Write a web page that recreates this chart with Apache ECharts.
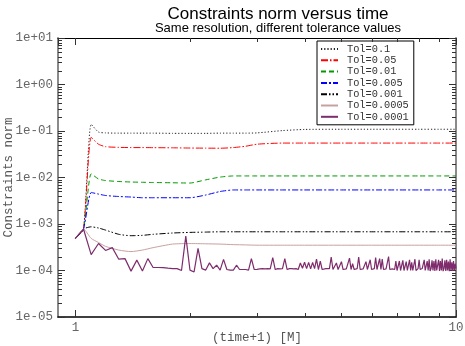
<!DOCTYPE html>
<html><head><meta charset="utf-8">
<script src="https://cdn.jsdelivr.net/npm/echarts@6/dist/echarts.min.js"></script>
<style>html,body{margin:0;padding:0;background:#fff}#c{width:465px;height:346px}</style>
</head><body><div id="c"></div>
<script>
// ---- data ----
const seriesNames = ['Tol=0.1','Tol=0.05','Tol=0.01','Tol=0.005','Tol=0.001','Tol=0.0005','Tol=0.0001'];

// (time+1) samples for the smooth curves
const tSmooth = [1.0,1.05,1.1,1.15,1.2,1.3,1.4,1.5,1.6,1.8,2.0,2.2,2.4,2.6,2.8,3.0,3.5,4,5,6,7,8,9,10];
const tol0_1    = [4.9e-4,7.8e-4,0.139,0.095,0.091,0.090,0.090,0.090,0.090,0.089,0.089,0.089,0.090,0.090,0.090,0.091,0.102,0.108,0.109,0.109,0.109,0.109,0.109,0.109];
const tol0_05   = [4.9e-4,7.8e-4,0.073,0.052,0.046,0.0445,0.044,0.044,0.0438,0.0435,0.043,0.0428,0.0426,0.044,0.047,0.052,0.055,0.055,0.055,0.055,0.055,0.055,0.055,0.055];
const tol0_01   = [4.9e-4,7.8e-4,0.0120,0.0093,0.0086,0.0082,0.0080,0.0079,0.0078,0.0077,0.0076,0.0089,0.0102,0.0108,0.0108,0.0108,0.0108,0.0108,0.0108,0.0108,0.0108,0.0108,0.0108,0.0108];
const tol0_005  = [4.9e-4,7.8e-4,0.00475,0.0044,0.0041,0.0039,0.0038,0.00367,0.00367,0.00367,0.00367,0.0042,0.0050,0.0054,0.0054,0.0054,0.0054,0.0054,0.0054,0.0054,0.0054,0.0054,0.0054,0.0054];
const tol0_001  = [4.9e-4,7.8e-4,8.7e-4,8.2e-4,7.4e-4,6.0e-4,5.6e-4,5.7e-4,6.0e-4,6.4e-4,6.6e-4,6.7e-4,6.8e-4,6.8e-4,6.8e-4,6.8e-4,6.8e-4,6.8e-4,6.8e-4,6.8e-4,6.8e-4,6.8e-4,6.8e-4,6.8e-4];
const tol0_0005 = [4.9e-4,7.8e-4,4.9e-4,4.0e-4,3.3e-4,2.75e-4,2.55e-4,2.75e-4,3.1e-4,3.7e-4,3.8e-4,3.75e-4,3.7e-4,3.6e-4,3.55e-4,3.5e-4,3.5e-4,3.5e-4,3.5e-4,3.5e-4,3.5e-4,3.5e-4,3.5e-4,3.5e-4];

// (time+1) samples for the noisy Tol=0.0001 curve
const tFine = [1.00,1.05,1.10,1.15,1.20,1.25,1.30,1.35,1.40,1.45,1.50,1.55,1.60,1.65,1.70,1.75,1.80,1.85,1.90,1.95,
2.00,2.05,2.10,2.15,2.20,2.25,2.30,2.35,2.40,2.45,2.50,2.55,2.60,2.65,2.70,2.75,2.80,2.85,2.90,2.95,
3.00,3.05,3.10,3.15,3.20,3.25,3.30,3.35,3.40,3.45,3.50,3.55,3.60,3.65,3.70,3.75,3.80,3.85,3.90,3.95,
4.00,4.05,4.10,4.15,4.20,4.25,4.30,4.35,4.40,4.45,4.50,4.55,4.60,4.65,4.70,4.75,4.80,4.85,4.90,4.95,
5.00,5.05,5.10,5.15,5.20,5.25,5.30,5.35,5.40,5.45,5.50,5.55,5.60,5.65,5.70,5.75,5.80,5.85,5.90,5.95,
6.00,6.05,6.10,6.15,6.20,6.25,6.30,6.35,6.40,6.45,6.50,6.55,6.60,6.65,6.70,6.75,6.80,6.85,6.90,6.95,
7.00,7.05,7.10,7.15,7.20,7.25,7.30,7.35,7.40,7.45,7.50,7.55,7.60,7.65,7.70,7.75,7.80,7.85,7.90,7.95,
8.00,8.05,8.10,8.15,8.20,8.25,8.30,8.35,8.40,8.45,8.50,8.55,8.60,8.65,8.70,8.75,8.80,8.85,8.90,8.95,
9.00,9.05,9.10,9.15,9.20,9.25,9.30,9.35,9.40,9.45,9.50,9.55,9.60,9.65,9.70,9.75,9.80,9.85,9.90,9.95,10.00];
const tol0_0001 = [4.9e-4,7.8e-4,2.2e-4,3.8e-4,2.7e-4,3.1e-4,1.75e-4,1.8e-4,0.97e-4,1.67e-4,0.98e-4,1.8e-4,1.16e-4,1.16e-4,1.15e-4,1.12e-4,1.1e-4,1.1e-4,1.0e-4,5.5e-4,
1.02e-4,0.93e-4,3.0e-4,1.1e-4,1.02e-4,1.46e-4,1.1e-4,1.3e-4,1.02e-4,1.73e-4,1.05e-4,1.02e-4,1.02e-4,1.3e-4,1.05e-4,1.05e-4,1.05e-4,1.02e-4,1.8e-4,1.05e-4,
1.06e-4,1.08e-4,1.1e-4,1.08e-4,1.1e-4,1.08e-4,1.9e-4,1.05e-4,1.1e-4,1.08e-4,1.1e-4,1.8e-4,1.05e-4,1.1e-4,1.1e-4,1.08e-4,1.1e-4,1.05e-4,1.45e-4,1.12e-4,
1.5e-4,1.1e-4,1.5e-4,1.08e-4,1.5e-4,1.1e-4,1.75e-4,1.05e-4,1.6e-4,1.05e-4,1.1e-4,1.1e-4,1.08e-4,1.1e-4,1.95e-4,1.05e-4,1.1e-4,1.45e-4,1.05e-4,1.1e-4,
1.55e-4,1.05e-4,1.1e-4,1.08e-4,1.1e-4,1.85e-4,1.05e-4,1.4e-4,1.05e-4,1.1e-4,1.1e-4,1.95e-4,1.05e-4,1.1e-4,1.08e-4,1.1e-4,1.55e-4,1.05e-4,1.08e-4,1.7e-4,
1.05e-4,1.08e-4,1.1e-4,1.9e-4,1.05e-4,1.08e-4,1.8e-4,1.05e-4,1.75e-4,1.05e-4,1.1e-4,1.08e-4,1.1e-4,2.0e-4,1.05e-4,1.1e-4,1.08e-4,1.1e-4,1.05e-4,1.6e-4,
1.0e-4,1.1e-4,1.6e-4,1.0e-4,1.1e-4,1.65e-4,1.0e-4,1.1e-4,1.55e-4,1.0e-4,1.1e-4,1.7e-4,1.0e-4,1.5e-4,1.0e-4,1.1e-4,1.75e-4,1.0e-4,1.1e-4,1.1e-4,
1.7e-4,1.05e-4,1.08e-4,1.1e-4,1.05e-4,1.7e-4,1.0e-4,1.1e-4,1.6e-4,1.0e-4,1.75e-4,0.98e-4,1.1e-4,1.65e-4,1.0e-4,1.6e-4,0.98e-4,1.75e-4,1.0e-4,1.1e-4,
1.7e-4,0.98e-4,1.6e-4,1.0e-4,1.8e-4,0.97e-4,1.1e-4,1.65e-4,0.98e-4,1.7e-4,1.0e-4,1.55e-4,0.97e-4,1.75e-4,1.0e-4,1.5e-4,0.98e-4,1.6e-4,1.0e-4,1.4e-4,1.1e-4];

// axis ticks
const xMajorTicks = [1, 10];
const xMinorTicks = [2,3,4,5,6,7,8,9];
const yDecades = [1e-5,1e-4,1e-3,1e-2,1e-1,1e0];
const minorMultipliers = [2,3,4,5,6,7,8,9];

// ---- chart ----
const pair = (xs, ys) => xs.map((x, i) => [x, ys[i]]);
const mono = 'Liberation Mono';
const styles = [
  {color:'#222222', type:[1.2,2]},
  {color:'#ff0000', type:[7,2,1.5,2]},
  {color:'#009a00', type:[5,3]},
  {color:'#0000ff', type:[6,2,2,2]},
  {color:'#000000', type:[6,2,1.5,2,1.5,2]},
  {color:'#c9a0a0', type:'solid'},
  {color:'#7e2c6c', type:'solid'}
];
const values = [tol0_1, tol0_05, tol0_01, tol0_005, tol0_001, tol0_0005];

const lineSeries = seriesNames.map((name, i) => ({
  name, type:'line', xAxisIndex:0, yAxisIndex:0,
  data: i < 6 ? pair(tSmooth, values[i]) : pair(tFine, tol0_0001),
  symbol:'none', showSymbol:false, smooth: i < 6 ? 0.2 : false,
  lineStyle:{color:styles[i].color, type:styles[i].type, width: i === 6 ? 1.2 : 1},
  itemStyle:{color:styles[i].color},
  z: 3 + i, silent:true, clip:true
}));

const yMinorTicks = [];
yDecades.forEach(d => minorMultipliers.forEach(m => yMinorTicks.push(m * d)));

const tickStyle = {stroke:'#333', lineWidth:1};
const yMinorSeries = {
  type:'custom', xAxisIndex:0, yAxisIndex:0, silent:true, clip:false, z:10,
  data: yMinorTicks.map(v => [1, v]),
  renderItem(params, api) {
    const cs = params.coordSys;
    const y = Math.round(api.coord([1, api.value(1)])[1]) + 0.5;
    return {type:'group', children:[
      {type:'line', shape:{x1:cs.x, y1:y, x2:cs.x + 4, y2:y}, style:tickStyle},
      {type:'line', shape:{x1:cs.x + cs.width - 4, y1:y, x2:cs.x + cs.width, y2:y}, style:tickStyle}
    ]};
  }
};
const xMinorSeries = {
  type:'custom', xAxisIndex:0, yAxisIndex:0, silent:true, clip:false, z:10,
  data: xMinorTicks.map(v => [v, 1]),
  renderItem(params, api) {
    const cs = params.coordSys;
    const x = Math.round(api.coord([api.value(0), 1])[0]) + 0.5;
    return {type:'group', children:[
      {type:'line', shape:{x1:x, y1:cs.y + cs.height, x2:x, y2:cs.y + cs.height - 4}, style:tickStyle},
      {type:'line', shape:{x1:x, y1:cs.y, x2:x, y2:cs.y + 4}, style:tickStyle}
    ]};
  }
};

const yFmt = v => {
  const e = Math.round(Math.log10(v));
  return '1e' + (e >= 0 ? '+' : '-') + String(Math.abs(e)).padStart(2, '0');
};

const chart = echarts.init(document.getElementById('c'), null, {renderer:'canvas'});
chart.setOption({
  animation:false,
  backgroundColor:'#ffffff',
  title:{
    text:'Constraints norm versus time',
    subtext:'Same resolution, different tolerance values',
    left:273, top:1, textAlign:'center', itemGap:-1,
    textStyle:{fontFamily:'Liberation Sans', fontSize:17, fontWeight:'normal', color:'#000'},
    subtextStyle:{fontFamily:'Liberation Sans', fontSize:13, color:'#000'}
  },
  legend:{
    data:seriesNames, orient:'vertical', left:317, top:41,
    padding:[3,5,3,3], itemGap:1.3, itemWidth:17, itemHeight:10,
    borderColor:'#000', borderWidth:1, backgroundColor:'#fff',
    itemStyle:{opacity:0},
    textStyle:{fontFamily:mono, fontSize:10.3, color:'#333', padding:[0,0,0,4], lineHeight:10},
    selectedMode:false
  },
  grid:{left:58, top:38, width:398, height:279, containLabel:false, outerBoundsMode:'none'},
  xAxis:[{
    type:'log', logBase:10, min:0.9, max:10, position:'bottom',
    name:'(time+1) [M]', nameLocation:'middle', nameGap:14, nameMoveOverlap:false,
    nameTextStyle:{fontFamily:mono, fontSize:12.5, color:'#555'},
    axisLine:{show:true, lineStyle:{color:'#000', width:1.5}},
    axisTick:{show:true, inside:true, length:7, lineStyle:{color:'#333'}},
    axisLabel:{showMinLabel:false, margin:4, fontFamily:mono, fontSize:12.5, color:'#666',
      formatter: v => xMajorTicks.includes(v) ? String(v) : ''},
    splitLine:{show:false}
  },{
    type:'log', logBase:10, min:0.9, max:10, position:'top',
    axisLine:{show:true, lineStyle:{color:'#000', width:1.2}},
    axisTick:{show:true, inside:true, length:7, lineStyle:{color:'#333'}},
    axisLabel:{show:false}, splitLine:{show:false}
  }],
  yAxis:[{
    type:'log', logBase:10, min:1e-5, max:10, position:'left',
    name:'Constraints norm', nameLocation:'middle', nameGap:43, nameRotate:90, nameMoveOverlap:false,
    nameTextStyle:{fontFamily:mono, fontSize:12.5, color:'#555'},
    axisLine:{show:true, lineStyle:{color:'#8a8a8a', width:2}},
    axisTick:{show:true, inside:true, length:7, lineStyle:{color:'#333'}},
    axisLabel:{margin:5, fontFamily:mono, fontSize:12.5, color:'#666', formatter:yFmt},
    splitLine:{show:false}
  },{
    type:'log', logBase:10, min:1e-5, max:10, position:'right',
    axisLine:{show:true, lineStyle:{color:'#8a8a8a', width:2}},
    axisTick:{show:true, inside:true, length:7, lineStyle:{color:'#333'}},
    axisLabel:{show:false}, splitLine:{show:false}
  }],
  series:[...lineSeries, yMinorSeries, xMinorSeries]
});
</script></body></html>
